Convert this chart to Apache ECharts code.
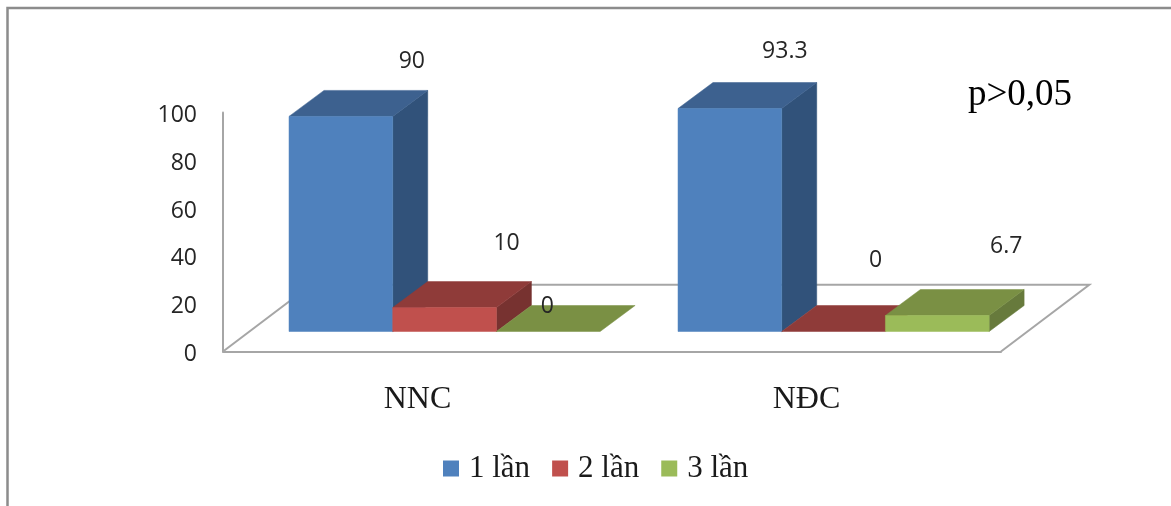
<!DOCTYPE html>
<html>
<head>
<meta charset="utf-8">
<style>html,body{margin:0;padding:0;background:#fff}#chart{width:1171px;height:506px}</style>
<script src="https://cdn.jsdelivr.net/npm/echarts@6/dist/echarts.min.js"></script>
</head>
<body>
<div id="chart"></div>
<script>
const categories = ['NNC', 'NĐC'];
const seriesNames = ['1 lần', '2 lần', '3 lần'];
const once = [90, 93.3];
const twice = [10, 0];
const thrice = [0, 6.7];
const valueTicks = [0, 20, 40, 60, 80, 100];
const note = 'p>0,05';

// Box shading per series: front, top and side faces.
const faces = [
  { front: '#4f81bd', top: '#3d618f', side: '#31527a' },
  { front: '#c0504d', top: '#8f3b39', side: '#773230' },
  { front: '#9bbb59', top: '#7a9044', side: '#677a3c' }
];
const axisGrey = '#a6a6a6';
const serif = '"Liberation Serif", serif';
const sans = '"Open Sans", sans-serif';

// Oblique projection of the 3D scene.
const floorDepth = [88.3, -66.7];
const boxDepth = [35, -26];
const baseLift = [27.6, -20];
const barShare = 0.2666;
const clusterStart = 0.1697;

// Hand-placed value labels, relative to each box's front top centre: [series][category].
const labelShift = [
  [[71, -55], [55, -57]],
  [[62, -64], [42, -71]],
  [[-1, -25], [69, -69]]
];

function poly(points, fill, z2) {
  return {
    type: 'polygon', z2: z2, shape: { points: points },
    style: { fill: fill, stroke: fill, lineWidth: 0.5 }
  };
}

function boxRenderer(seriesIndex) {
  return function (params, api) {
    const cat = api.value(0);
    const val = api.value(1);
    const band = api.size([1, 0])[0];
    const w = band * barShare;
    const bandLeft = api.coord([cat, 0])[0] - band / 2;
    const x0 = bandLeft + band * clusterStart + w * seriesIndex;
    const x1 = x0 + w;
    const yb = api.coord([cat, 0])[1];
    const yt = api.coord([cat, val])[1];
    const base = yb + baseLift[1];
    const top = yt + baseLift[1];
    const dx = boxDepth[0];
    const dy = boxDepth[1];
    const f = faces[seriesIndex];
    const children = [];
    if (val > 0) {
      children.push(poly([[x1, base], [x1 + dx, base + dy], [x1 + dx, top + dy], [x1, top]], f.side, 1));
      children.push(poly([[x0, top], [x1, top], [x1, base], [x0, base]], f.front, 3));
    }
    children.push(poly([[x0, top], [x1, top], [x1 + dx, top + dy], [x0 + dx, top + dy]], f.top, 2));
    const shift = labelShift[seriesIndex][params.dataIndex];
    children.push({
      type: 'text', z2: 10,
      style: {
        x: (x0 + x1) / 2 + shift[0],
        y: top + shift[1],
        text: String(val),
        fill: '#262626',
        font: '23px ' + sans,
        align: 'center',
        verticalAlign: 'middle'
      }
    });
    return { type: 'group', children: children };
  };
}

// Floor outline behind the boxes; the front edge is the category axis line.
function floorRenderer(params) {
  const c = params.coordSys;
  const y = c.y + c.height;
  const dx = floorDepth[0];
  const dy = floorDepth[1];
  return {
    type: 'polyline',
    shape: { points: [[c.x, y], [c.x + dx, y + dy], [c.x + c.width + dx, y + dy], [c.x + c.width, y]] },
    style: { stroke: axisGrey, lineWidth: 2, fill: 'none' }
  };
}

function boxSeries(index, values) {
  return {
    name: seriesNames[index],
    type: 'custom',
    coordinateSystem: 'cartesian2d',
    renderItem: boxRenderer(index),
    encode: { x: 0, y: 1 },
    itemStyle: { color: faces[index].front },
    z: 5 + index,
    data: values.map(function (v, i) { return [i, v]; })
  };
}

const chart = echarts.init(document.getElementById('chart'), null, { renderer: 'canvas' });
chart.setOption({
  animation: false,
  backgroundColor: '#fff',
  grid: { left: 223, top: 112.5, width: 778, height: 239, containLabel: false },
  xAxis: {
    type: 'category',
    data: categories,
    axisLine: { show: true, lineStyle: { color: axisGrey, width: 2 } },
    axisTick: { show: false },
    axisLabel: { color: '#1a1a1a', fontFamily: serif, fontSize: 32, margin: 32 }
  },
  yAxis: {
    type: 'value',
    min: valueTicks[0],
    max: valueTicks[valueTicks.length - 1],
    interval: valueTicks[1] - valueTicks[0],
    axisLine: { show: true, lineStyle: { color: axisGrey, width: 2 } },
    axisTick: { show: false },
    splitLine: { show: false },
    axisLabel: {
      color: '#262626', fontFamily: sans, fontSize: 23, margin: 26,
      formatter: '{n|{value}}',
      rich: { n: { color: '#262626', fontFamily: sans, fontSize: 23, padding: [6, 0, 0, 0] } }
    }
  },
  legend: {
    data: seriesNames,
    left: 438,
    top: 448,
    icon: 'rect',
    itemWidth: 16,
    itemHeight: 16,
    itemGap: 22,
    textStyle: { color: '#1a1a1a', fontFamily: serif, fontSize: 31, padding: [2, 0, 0, 5] }
  },
  graphic: [
    { type: 'rect', silent: true, z: -1, shape: { x: 7.5, y: 8, width: 1200, height: 600 }, style: { fill: 'none', stroke: '#8c8c8c', lineWidth: 2.5 } },
    { type: 'text', left: 968, top: 77, style: { text: note, fill: '#000', font: '37px ' + serif } }
  ],
  series: [
    {
      type: 'custom',
      coordinateSystem: 'cartesian2d',
      renderItem: floorRenderer,
      silent: true,
      z: 1,
      data: [[0, 0]]
    },
    boxSeries(0, once),
    boxSeries(1, twice),
    boxSeries(2, thrice)
  ]
});
</script>
</body>
</html>
